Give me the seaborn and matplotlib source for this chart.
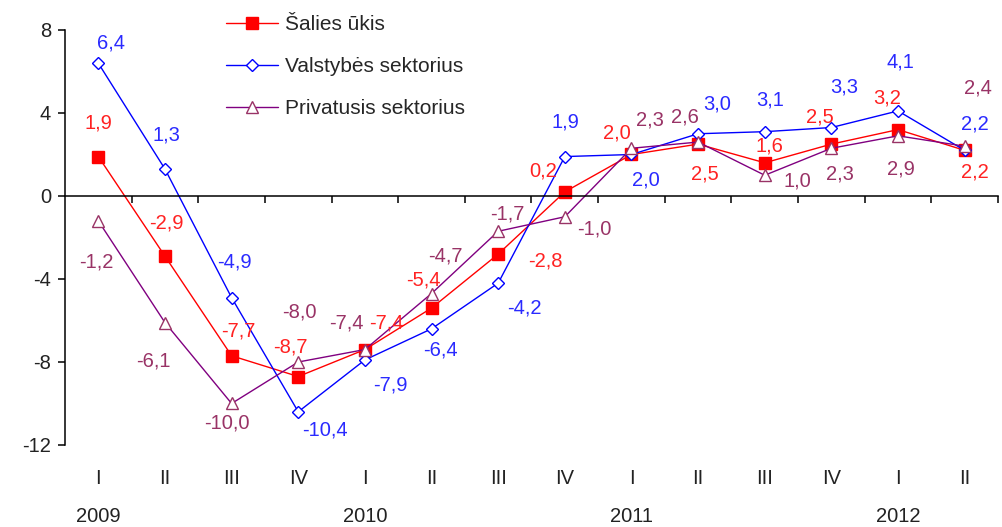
import matplotlib
matplotlib.use("Agg")
import matplotlib.pyplot as plt
import numpy as np
import seaborn as sns

quarters = ["I", "II", "III", "IV", "I", "II", "III", "IV", "I", "II", "III", "IV", "I", "II"]
years = {0: "2009", 4: "2010", 8: "2011", 12: "2012"}

salies_ukis = [1.9, -2.9, -7.7, -8.7, -7.4, -5.4, -2.8, 0.2, 2.0, 2.5, 1.6, 2.5, 3.2, 2.2]
valstybes = [6.4, 1.3, -4.9, -10.4, -7.9, -6.4, -4.2, 1.9, 2.0, 3.0, 3.1, 3.3, 4.1, 2.2]
privatusis = [-1.2, -6.1, -10.0, -8.0, -7.4, -4.7, -1.7, -1.0, 2.3, 2.6, 1.0, 2.3, 2.9, 2.4]

# label offsets in pixels (dx right, dy down), hand placed like the original
red_off = [(0, -34), (1, -33), (7, -25), (-8, -30), (21, -27), (-8, -28), (47, 7),
           (-22, -21), (-15, -21), (7, 30), (5, -17), (-12, -27), (-11, -32), (10, 22)]
blue_off = [(13, -20), (1, -34), (3, -36), (27, 18), (25, 25), (9, 21), (26, 25),
            (1, -35), (14, 26), (19, -30), (5, -32), (13, -41), (2, -49), (10, -26)]
purple_off = [(-2, 41), (-12, 38), (-5, 20), (1, -50), (-19, -27), (14, -38), (9, -17),
              (29, 12), (18, -28), (-13, -25), (33, 6), (9, 26), (3, 33), (13, -58)]

sns.set_theme(style="white")
plt.rcParams["font.family"] = ["Liberation Sans", "DejaVu Sans"]
plt.rcParams["axes.unicode_minus"] = False

fig = plt.figure(figsize=(10.03, 5.27), dpi=100)
ax = fig.add_axes([65 / 1003, 1 - 445 / 527, (998 - 65) / 1003, (445 - 30) / 527])

x = np.arange(len(quarters))
series = [
    ("Šalies ūkis", salies_ukis, "#FF0000", "#FF0000", "s", "#FF0000", "#FF2222", red_off),
    ("Valstybės sektorius", valstybes, "#0000FF", "white", "D", "#0000FF", "#2a2aFF", blue_off),
    ("Privatusis sektorius", privatusis, "#800080", "white", "^", "#993366", "#993366", purple_off),
]

handles = []
for name, vals, col, face, mk, edge, tcol, offs in series:
    sns.lineplot(x=x, y=vals, ax=ax, color=col, linewidth=1.0, marker=mk,
                 markersize=8 if mk != "D" else 6.5, markerfacecolor=face,
                 markeredgecolor=edge, markeredgewidth=1.0, label=name, legend=False)
    handles.append(ax.get_lines()[-1])
    for xi, v, (dx, dy) in zip(x, vals, offs):
        ax.annotate(f"{v:.1f}".replace(".", ","), (xi, v), xytext=(dx, -dy),
                    textcoords="offset pixels", ha="center", va="center",
                    color=tcol, fontsize=14.5)

ax.set_xlim(-0.5, len(quarters) - 0.5)
ax.set_ylim(-12, 8)
ax.set_yticks([8, 4, 0, -4, -8, -12])
ax.set_yticklabels(["8", "4", "0", "-4", "-8", "-12"])
ax.set_xticks(np.arange(0.5, len(quarters), 1.0))
ax.set_xticklabels([])
ax.spines["top"].set_visible(False)
ax.spines["right"].set_visible(False)
ax.spines["bottom"].set_position(("data", 0))
for s in ["left", "bottom"]:
    ax.spines[s].set_color("black")
    ax.spines[s].set_linewidth(1.1)
ax.tick_params(axis="y", direction="out", length=5, width=1.1, color="black",
               labelsize=14.5, labelcolor="#222222", pad=5, left=True)
ax.tick_params(axis="x", direction="out", length=5, width=1.1, color="black", bottom=True)
ax.grid(False)

trans = ax.get_xaxis_transform()
for i, q in enumerate(quarters):
    ax.text(i, -0.08, q, transform=trans, ha="center", va="center", fontsize=14.5, color="#222222")
for i, yr in years.items():
    ax.text(i, -0.172, yr, transform=trans, ha="center", va="center", fontsize=14.5, color="#222222")

ax.legend(handles=handles, labels=[s[0] for s in series], loc="upper left",
          bbox_to_anchor=(226 / 1003, 1 - 15 / 527), bbox_transform=fig.transFigure,
          frameon=False, fontsize=15, handlelength=2.5, handletextpad=0.35,
          labelspacing=1.1, borderpad=0, borderaxespad=0)

fig.savefig("out.png", dpi=100)
